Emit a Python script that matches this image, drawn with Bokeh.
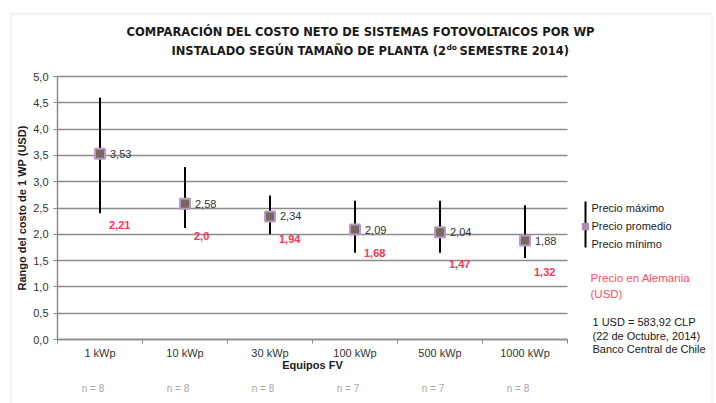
from bokeh.plotting import figure
from bokeh.models import (Range1d, FixedTicker, Label, PolyAnnotation, ColumnDataSource)
from bokeh.core.properties import value
from bokeh.embed import file_html
from bokeh.resources import INLINE

# ---- data ----
categories = ["1 kWp", "10 kWp", "30 kWp", "100 kWp", "500 kWp", "1000 kWp"]
precio_max = [4.60, 3.28, 2.74, 2.64, 2.64, 2.55]
precio_min = [2.40, 2.12, 2.00, 1.65, 1.65, 1.55]
precio_prom = [3.53, 2.58, 2.34, 2.09, 2.04, 1.88]
precio_alemania = [2.21, 2.0, 1.94, 1.68, 1.47, 1.32]
alemania_labels = ["2,21", "2,0", "1,94", "1,68", "1,47", "1,32"]
n_muestras = [8, 8, 8, 7, 7, 8]
y_ticks = [0.0, 0.5, 1.0, 1.5, 2.0, 2.5, 3.0, 3.5, 4.0, 4.5, 5.0]
y_tick_labels = ["0,0", "0,5", "1,0", "1,5", "2,0", "2,5", "3,0", "3,5", "4,0", "4,5", "5,0"]

FONT = "Liberation Sans"
TFONT = "DejaVu Sans"

W, H = 716, 403
AX_Y0 = 57           # pixel column of the value axis
AX_X0 = 339          # pixel row of value 0
PX_PER_X = 85.0      # pixels per category
PX_PER_Y = 52.6      # pixels per unit of value

def dx(px):
    return (px - AX_Y0) / PX_PER_X

def dy(py):
    return (AX_X0 - py) / PX_PER_Y

xs = [i + 0.5 for i in range(len(categories))]
n_cat = len(categories)

p = figure(width=W, height=H,
           x_range=Range1d(dx(0), dx(W)), y_range=Range1d(dy(H), dy(0)),
           output_backend="svg", toolbar_location=None,
           min_border_left=0, min_border_right=0, min_border_top=0, min_border_bottom=0)
p.outline_line_color = None
p.background_fill_color = "white"
p.border_fill_color = "white"

# axes (fixed at the data origin)
p.xaxis.fixed_location = 0
p.yaxis.fixed_location = 0

p.xaxis.ticker = FixedTicker(ticks=xs, minor_ticks=list(range(n_cat + 1)))
p.xaxis.bounds = (0, n_cat)
p.xaxis.major_label_overrides = {x: c for x, c in zip(xs, categories)}
p.xaxis.major_tick_out = 0
p.xaxis.major_tick_in = 0
p.xaxis.minor_tick_out = 4
p.xaxis.minor_tick_in = 0
p.xaxis.minor_tick_line_color = "#8c8c8c"
p.xaxis.major_label_standoff = 3
p.xaxis.axis_label = "Equipos FV"
p.xaxis.axis_label_standoff = -3
p.xaxis.axis_label_text_font = FONT
p.xaxis.axis_label_text_font_style = "bold"
p.xaxis.axis_label_text_font_size = "11px"
p.xaxis.axis_label_text_color = "#1a1a1a"

p.yaxis.ticker = FixedTicker(ticks=y_ticks, minor_ticks=[])
p.yaxis.bounds = (0, 5)
p.yaxis.major_label_overrides = {t: l for t, l in zip(y_ticks, y_tick_labels)}
p.yaxis.major_tick_out = 4
p.yaxis.major_tick_in = 0
p.yaxis.major_label_standoff = 5
p.yaxis.axis_label = "Rango del costo de 1 WP (USD)"
p.yaxis.axis_label_standoff = 2
p.yaxis.axis_label_text_font = FONT
p.yaxis.axis_label_text_font_style = "bold"
p.yaxis.axis_label_text_font_size = "11px"
p.yaxis.axis_label_text_color = "#1a1a1a"

for ax in (p.xaxis, p.yaxis):
    ax.axis_line_color = "#8c8c8c"
    ax.axis_line_width = 1.5
    ax.major_tick_line_color = "#8c8c8c"
    ax.major_label_text_font = FONT
    ax.major_label_text_font_size = "11px"
    ax.major_label_text_color = "#333333"

# grid
p.xgrid.visible = False
ygrid = p.ygrid[0]
ygrid.grid_line_color = "#8c8c8c"
ygrid.grid_line_width = 1.5
ygrid.bounds = (0, 5)
if "cross_bounds" in ygrid.properties():
    ygrid.cross_bounds = (0, n_cat)
else:
    ygrid.visible = False
    p.segment(x0=[0] * len(y_ticks[1:]), y0=y_ticks[1:], x1=[n_cat] * len(y_ticks[1:]),
              y1=y_ticks[1:], line_color="#8c8c8c", line_width=1.5)

# sample sizes under the category axis
for x, n in zip(xs, n_muestras):
    p.add_layout(Label(x=x, y=dy(388), text=f"n = {n}", x_offset=-7, text_align="center",
                       text_baseline="middle", text_font=FONT, text_font_size="10px",
                       text_color="#a6a6a6"))

# whiskers
p.segment(x0=xs, y0=precio_min, x1=xs, y1=precio_max, line_color="black", line_width=2)

# mean markers
p.scatter(x=xs, y=precio_prom, marker="square", size=10,
          fill_color="#766a60", line_color="#b89ac4", line_width=2)

# mean labels
prom_src = ColumnDataSource(dict(x=xs, y=precio_prom,
                                 t=[f"{v:.2f}".replace(".", ",") for v in precio_prom]))
p.text(x="x", y="y", text="t", source=prom_src, x_offset=10, text_align="left",
       text_baseline="middle", text_font=value(FONT), text_font_size="11px",
       text_color="#333333")

# Germany price labels
al_src = ColumnDataSource(dict(x=xs, y=precio_alemania, t=alemania_labels))
p.text(x="x", y="y", text="t", source=al_src, x_offset=9, y_offset=2, text_align="left",
       text_baseline="middle", text_font=value(FONT), text_font_size="11px",
       text_font_style="bold", text_color="#ff3355")

# title
TS = "11.5px"
p.add_layout(Label(x=dx(360), y=dy(31),
                   text="COMPARACIÓN DEL COSTO NETO DE SISTEMAS FOTOVOLTAICOS POR WP",
                   text_align="center", text_baseline="middle", text_font=TFONT,
                   text_font_size=TS, text_font_style="bold", text_color="#1a1a1a"))
p.add_layout(Label(x=dx(445.5), y=dy(50), text="INSTALADO SEGÚN TAMAÑO DE PLANTA (2",
                   text_align="right", text_baseline="middle", text_font=TFONT,
                   text_font_size=TS, text_font_style="bold", text_color="#1a1a1a"))
p.add_layout(Label(x=dx(446), y=dy(46.5), text="do",
                   text_align="left", text_baseline="middle", text_font=TFONT,
                   text_font_size="7.5px", text_font_style="bold", text_color="#1a1a1a"))
p.add_layout(Label(x=dx(459), y=dy(50), text="SEMESTRE 2014)",
                   text_align="left", text_baseline="middle", text_font=TFONT,
                   text_font_size=TS, text_font_style="bold", text_color="#1a1a1a"))

# legend
lx0, lx1 = dx(584), dx(586)
p.add_layout(PolyAnnotation(xs=[lx0, lx1, lx1, lx0], ys=[dy(201), dy(201), dy(247), dy(247)],
                            line_color=None, fill_color="black", fill_alpha=1))
sq = 3.5
p.add_layout(PolyAnnotation(xs=[dx(585 - sq), dx(585 + sq), dx(585 + sq), dx(585 - sq)],
                            ys=[dy(226 - sq), dy(226 - sq), dy(226 + sq), dy(226 + sq)],
                            line_color="#b89ac4", line_width=1, fill_color="#a98cb4",
                            fill_alpha=1))
for txt, py in [("Precio máximo", 207), ("Precio promedio", 225), ("Precio mínimo", 243)]:
    p.add_layout(Label(x=dx(591), y=dy(py), text=txt, text_align="left",
                       text_baseline="middle", text_font=FONT, text_font_size="11px",
                       text_color="#1a1a1a"))

for txt, py in [("Precio  en Alemania", 277), ("(USD)", 293)]:
    p.add_layout(Label(x=dx(590), y=dy(py), text=txt, text_align="left",
                       text_baseline="middle", text_font=FONT, text_font_size="11.5px",
                       text_color="#ff4d64"))

for txt, py in [("1 USD = 583,92 CLP", 321.5), ("(22 de Octubre, 2014)", 335),
                ("Banco Central de Chile", 348)]:
    p.add_layout(Label(x=dx(592), y=dy(py), text=txt, text_align="left",
                       text_baseline="middle", text_font=FONT, text_font_size="11px",
                       text_color="#1a1a1a"))

# chart border
for bx, by in [([10.5, 711.5], [13.5, 13.5]), ([10.5, 10.5], [13.5, H]),
               ([711.5, 711.5], [13.5, H])]:
    p.add_layout(PolyAnnotation(xs=[dx(v) for v in bx], ys=[dy(v) for v in by],
                                line_color="#b3b3b3", line_width=1, fill_alpha=0))

open("out.html", "w").write(file_html(p, INLINE))
